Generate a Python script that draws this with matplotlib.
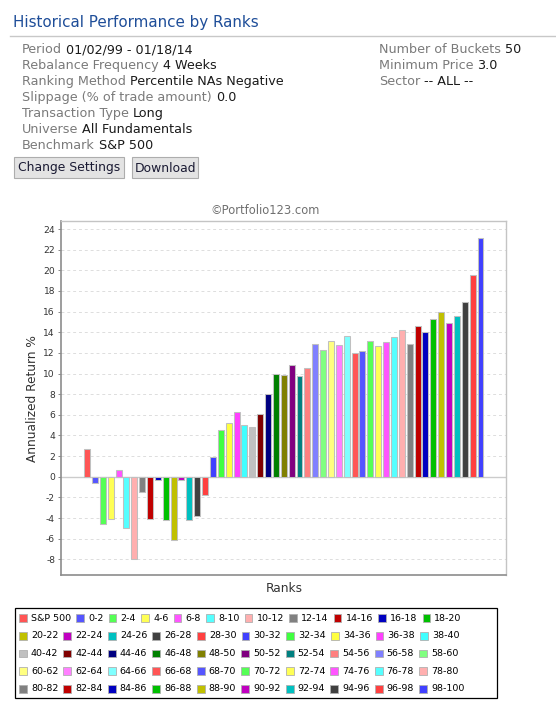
import matplotlib
matplotlib.use("Agg")
import matplotlib.pyplot as plt
from matplotlib.patches import Rectangle
from matplotlib.lines import Line2D

plt.rcParams['font.family'] = ['DejaVu Sans']

# ---------------- data ----------------
categories = ["S&P 500", "0-2", "2-4", "4-6", "6-8", "8-10", "10-12", "12-14", "14-16", "16-18",
              "18-20", "20-22", "22-24", "24-26", "26-28", "28-30", "30-32", "32-34", "34-36",
              "36-38", "38-40", "40-42", "42-44", "44-46", "46-48", "48-50", "50-52", "52-54",
              "54-56", "56-58", "58-60", "60-62", "62-64", "64-66", "66-68", "68-70", "70-72",
              "72-74", "74-76", "76-78", "78-80", "80-82", "82-84", "84-86", "86-88", "88-90",
              "90-92", "92-94", "94-96", "96-98", "98-100"]
returns = [2.7, -0.6, -4.6, -4.1, 0.7, -5.0, -8.0, -1.5, -4.1, -0.3,
           -4.2, -6.1, -0.3, -4.2, -3.8, -1.8, 1.9, 4.5, 5.2,
           6.3, 5.0, 4.8, 6.1, 8.0, 10.0, 9.9, 10.8, 9.8,
           10.5, 12.9, 12.3, 13.2, 12.8, 13.6, 12.0, 12.2, 13.2,
           12.7, 13.1, 13.5, 14.2, 12.9, 14.6, 14.05, 15.25, 16.0,
           14.85, 15.55, 16.9, 19.5, 23.1]
palette = ["#FF5555", "#5555FF", "#55FF55", "#FFFF55", "#FF55FF", "#55FFFF", "#FFAFAF",
           "#808080", "#C00000", "#0000C0", "#00C000", "#C0C000", "#C000C0", "#00C0C0",
           "#404040", "#FF4040", "#4040FF", "#40FF40", "#FFFF40", "#FF40FF", "#40FFFF",
           "#C0C0C0", "#800000", "#000080", "#008000", "#808000", "#800080", "#008080",
           "#FF8080", "#8080FF", "#80FF80", "#FFFF80", "#FF80FF", "#80FFFF"]
colors = [palette[i % len(palette)] for i in range(len(categories))]
yticks = list(range(-8, 25, 2))

info_left = [("Period", "01/02/99 - 01/18/14"),
             ("Rebalance Frequency", "4 Weeks"),
             ("Ranking Method", "Percentile NAs Negative"),
             ("Slippage (% of trade amount)", "0.0"),
             ("Transaction Type", "Long"),
             ("Universe", "All Fundamentals"),
             ("Benchmark", "S&P 500")]
info_right = [("Number of Buckets", "50"),
              ("Minimum Price", "3.0"),
              ("Sector", "-- ALL --")]

# ---------------- figure ----------------
W, H = 556, 707
fig = plt.figure(figsize=(W / 100, H / 100), dpi=100)
fig.patch.set_facecolor("white")


def fx(x):
    return x / W


def fy(y):
    return 1 - y / H


renderer = fig.canvas.get_renderer()

# title
fig.text(fx(13), fy(27.5), "Historical Performance by Ranks", fontsize=10.9,
         color="#1F4E99", va="baseline", ha="left")
fig.add_artist(Line2D([fx(10), fx(556)], [fy(36), fy(36)], color="#C8C8C8", lw=1))

LBL = "#7A7A7A"
VAL = "#1A1A1A"
fs_info = 9.15
space_px = 0.318 * fs_info * 100 / 72


def pair(x, y, lab, val):
    t = fig.text(fx(x), fy(y), lab, fontsize=fs_info, color=LBL, va="baseline", ha="left")
    w = t.get_window_extent(renderer).width
    fig.text(fx(x + w + space_px), fy(y), val, fontsize=fs_info, color=VAL,
             va="baseline", ha="left")


for k, (lab, val) in enumerate(info_left):
    pair(22, 53.3 + 16 * k, lab, val)
for k, (lab, val) in enumerate(info_right):
    pair(379, 53.3 + 16 * k, lab, val)

# buttons
for (x0, x1, txt) in [(14, 124, "Change Settings"), (132, 198, "Download")]:
    fig.add_artist(Rectangle((fx(x0), fy(178)), fx(x1 - x0), (178 - 157) / H,
                             facecolor="#E3E3E3", edgecolor="#ADADAD", lw=0.8,
                             transform=fig.transFigure))
    fig.text(fx((x0 + x1) / 2), fy(168), txt, fontsize=8.9, color="#1A1A33",
             ha="center", va="center")

# copyright
fig.text(fx(265), fy(210), "©Portfolio123.com", fontsize=8.3, color="#707070",
         ha="center", va="center")

# ---------------- chart ----------------
ax_l, ax_r, ax_t, ax_b = 61.3, 506, 221, 575
ax = fig.add_axes([fx(ax_l), fy(ax_b), (ax_r - ax_l) / W, (ax_b - ax_t) / H])
xs = list(range(len(categories)))
ax.bar(xs, returns, width=0.76, color=colors, edgecolor="#C0C0C0", linewidth=0.75, zorder=3)
ax.set_xlim(-3.27, 53.24)
ax.set_ylim(-9.52, 24.78)
ax.set_yticks(yticks)
ax.set_yticklabels([str(v) for v in yticks])
ax.set_xticks([])
for v in yticks:
    ax.axhline(v, color="#DDDDDD", lw=0.7, ls=(0, (3, 3)), zorder=1)
ax.axhline(0, color="#CCCCCC", lw=1.0, zorder=2)
ax.tick_params(axis="y", length=2, width=0.7, color="#888888", labelsize=6.6,
               labelcolor="#333333", pad=2.5)
for s in ["left", "bottom"]:
    ax.spines[s].set_color("#8C8C8C")
    ax.spines[s].set_linewidth(1.2)
for s in ["top", "right"]:
    ax.spines[s].set_color("#C4C4C4")
    ax.spines[s].set_linewidth(1.0)

fig.text(fx(32), fy(398.5), "Annualized Return %", fontsize=8.7, color="#333333",
         rotation=90, ha="center", va="center")
fig.text(fx(284), fy(589), "Ranks", fontsize=8.7, color="#333333", ha="center", va="center")

# ---------------- legend ----------------
fig.add_artist(Rectangle((fx(15), fy(698.3)), fx(497 - 15), (698.3 - 608.3) / H,
                         facecolor="white", edgecolor="black", lw=0.9,
                         transform=fig.transFigure))
fs_leg = 6.8
psz = 7.7
gap1, gap2 = 4.2, 5.2
x, row = 19.0, 0
row_y = [618.3 + 17.6 * r for r in range(6)]
for lab, col in zip(categories, colors):
    t = fig.text(0, 0, lab, fontsize=fs_leg, color="black", ha="left", va="center")
    tw = t.get_window_extent(renderer).width
    adv = psz + gap1 + tw + gap2
    if x + psz + gap1 + tw > 492:
        row += 1
        x = 19.0
    yc = row_y[row]
    fig.add_artist(Rectangle((fx(x), fy(yc + psz / 2)), fx(psz), psz / H,
                             facecolor=col, edgecolor="#B0B0B0", lw=0.6,
                             transform=fig.transFigure))
    t.set_position((fx(x + psz + gap1), fy(yc)))
    x += adv

fig.savefig("out.png", dpi=100)
